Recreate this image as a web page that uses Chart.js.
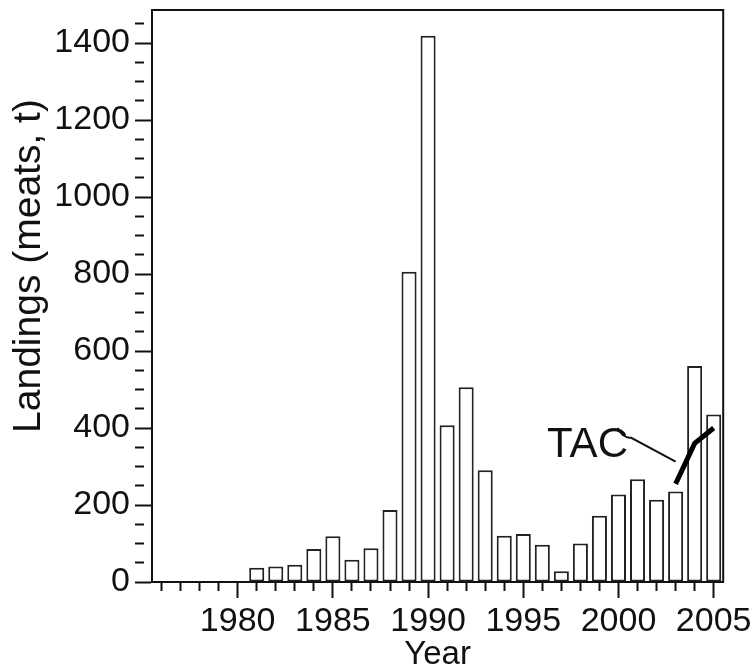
<!DOCTYPE html>
<html>
<head>
<meta charset="utf-8">
<title>Landings</title>
<script src="https://cdn.jsdelivr.net/npm/chart.js@4.4.1/dist/chart.umd.min.js"></script>
<style>
    body { margin: 0; background: #fff; }
    canvas { display: block; }
</style>
</head>
<body>
<canvas id="landingsChart" width="755" height="671"></canvas>
<script>
// landings per year (meats, t) - no landings before 1981
var years = [1976, 1977, 1978, 1979, 1980, 1981, 1982, 1983, 1984, 1985,
             1986, 1987, 1988, 1989, 1990, 1991, 1992, 1993, 1994, 1995,
             1996, 1997, 1998, 1999, 2000, 2001, 2002, 2003, 2004, 2005];
var landings = [null, null, null, null, null, 37, 40, 45, 86, 119,
                58, 88, 187, 806, 1419, 407, 506, 290, 120, 125,
                97, 28, 100, 172, 227, 267, 214, 235, 561, 435];

// total allowable catch line
var tacYears = [2003, 2004, 2005];
var tacValues = [255, 360, 400];

var yTickLabels = [0, 200, 400, 600, 800, 1000, 1200, 1400];

var fontFamily = '"Liberation Sans", Arial, sans-serif';
var ink = '#111';

// TAC line lined up with the year categories
var tacData = years.map(function (y) {
    var i = tacYears.indexOf(y);
    return i === -1 ? null : tacValues[i];
});

// frame, rotated y title and the TAC label with its pointer
var extrasPlugin = {
    id: 'extras',
    afterDraw: function (chart) {
        var ctx = chart.ctx;
        var area = chart.chartArea;
        var xs = chart.scales.x;
        var ys = chart.scales.y;

        ctx.save();
        ctx.strokeStyle = ink;
        ctx.lineWidth = 2;
        ctx.beginPath();
        ctx.moveTo(area.left, area.top);
        ctx.lineTo(area.right, area.top);
        ctx.lineTo(area.right, area.bottom);
        ctx.stroke();

        // y axis title sits a bit above the centre of the axis
        ctx.fillStyle = ink;
        ctx.font = '39px ' + fontFamily;
        ctx.translate(29, 266);
        ctx.rotate(-Math.PI / 2);
        ctx.textAlign = 'center';
        ctx.textBaseline = 'middle';
        ctx.fillText('Landings (meats, t)', 0, 0);
        ctx.restore();

        ctx.save();
        ctx.fillStyle = ink;
        ctx.font = '42px ' + fontFamily;
        ctx.textAlign = 'left';
        ctx.textBaseline = 'alphabetic';
        ctx.fillText('TAC', xs.getPixelForValue(20.25), ys.getPixelForValue(325));

        ctx.strokeStyle = ink;
        ctx.lineWidth = 2;
        ctx.beginPath();
        ctx.moveTo(xs.getPixelForValue(23.95), ys.getPixelForValue(400));
        ctx.quadraticCurveTo(xs.getPixelForValue(24.3), ys.getPixelForValue(372),
                             xs.getPixelForValue(24.65), ys.getPixelForValue(375));
        ctx.lineTo(xs.getPixelForValue(27.0), ys.getPixelForValue(313));
        ctx.stroke();
        ctx.restore();
    }
};

var ctx = document.getElementById('landingsChart').getContext('2d');

new Chart(ctx, {
    data: {
        labels: years,
        datasets: [
            {
                type: 'line',
                label: 'TAC',
                data: tacData,
                borderColor: '#000',
                borderWidth: 5,
                pointRadius: 0,
                tension: 0,
                order: 0
            },
            {
                type: 'bar',
                label: 'Landings',
                data: landings,
                backgroundColor: '#fff',
                borderColor: '#222',
                borderWidth: 2,
                borderSkipped: false,
                barPercentage: 0.79,
                categoryPercentage: 1,
                order: 1
            }
        ]
    },
    options: {
        responsive: false,
        animation: false,
        layout: { padding: { left: 0, top: 10, right: 30, bottom: 0 } },
        plugins: {
            legend: { display: false },
            tooltip: { enabled: false }
        },
        scales: {
            x: {
                type: 'category',
                offset: true,
                afterFit: function (scale) { scale.height = 89; },
                border: { display: true, color: ink, width: 2 },
                grid: {
                    offset: false,
                    drawOnChartArea: false,
                    tickLength: 16,
                    tickWidth: 2,
                    tickColor: ink,
                    tickBorderDash: function (c) {
                        return years[c.index] % 5 === 0 ? [] : [8, 40];
                    }
                },
                ticks: {
                    autoSkip: false,
                    maxRotation: 0,
                    padding: 3,
                    color: ink,
                    font: { family: fontFamily, size: 34 },
                    callback: function (value, index) {
                        return years[index] % 5 === 0 ? String(years[index]) : '';
                    }
                },
                title: {
                    display: true,
                    text: 'Year',
                    color: ink,
                    padding: 0,
                    font: { family: fontFamily, size: 33, lineHeight: 1 }
                }
            },
            y: {
                type: 'linear',
                min: 0,
                max: 1486,
                afterFit: function (scale) { scale.width = 152; },
                border: { display: true, color: ink, width: 2 },
                grid: {
                    drawOnChartArea: false,
                    tickLength: 17,
                    tickWidth: 2,
                    tickColor: ink,
                    tickBorderDash: function (c) {
                        return c.tick && yTickLabels.indexOf(c.tick.value) !== -1 ? [] : [9, 40];
                    }
                },
                ticks: {
                    stepSize: 50,
                    autoSkip: false,
                    includeBounds: false,
                    padding: 5,
                    color: ink,
                    // tiny line height so the labels do not push the plot down
                    font: { family: fontFamily, size: 34, lineHeight: 0.1 },
                    callback: function (value) {
                        return yTickLabels.indexOf(value) !== -1 ? String(value) : '';
                    }
                }
            }
        }
    },
    plugins: [extrasPlugin]
});
</script>
</body>
</html>
